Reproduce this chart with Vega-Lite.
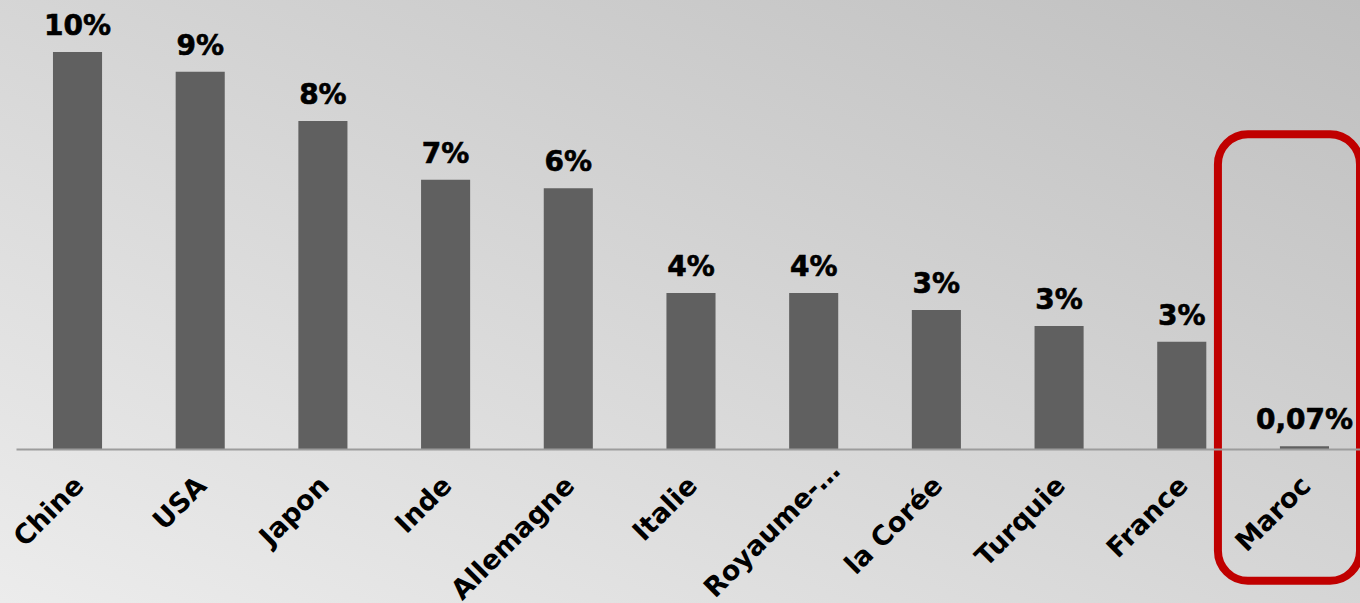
{
  "$schema": "https://vega.github.io/schema/vega-lite/v6.json",
  "width": 1344,
  "height": 449,
  "autosize": {"type": "none"},
  "padding": {"left": 16, "top": 0, "right": 0, "bottom": 154},
  "background": "#d6d6d6",
  "config": {"view": {"stroke": null}, "font": "DejaVu Sans"},
  "data": {
    "values": [
      {"pays": "Chine", "valeur": 10.0, "label": "10%"},
      {"pays": "USA", "valeur": 9.5, "label": "9%"},
      {"pays": "Japon", "valeur": 8.26, "label": "8%"},
      {"pays": "Inde", "valeur": 6.78, "label": "7%"},
      {"pays": "Allemagne", "valeur": 6.57, "label": "6%"},
      {"pays": "Italie", "valeur": 3.93, "label": "4%"},
      {"pays": "Royaume-Uni", "valeur": 3.93, "label": "4%"},
      {"pays": "la Corée", "valeur": 3.5, "label": "3%"},
      {"pays": "Turquie", "valeur": 3.1, "label": "3%"},
      {"pays": "France", "valeur": 2.7, "label": "3%"},
      {"pays": "Maroc", "valeur": 0.07, "label": "0,07%"}
    ]
  },
  "encoding": {
    "x": {
      "field": "pays",
      "type": "nominal",
      "sort": null,
      "scale": {"paddingInner": 0.6, "paddingOuter": 0.277, "align": 0.544},
      "axis": {
        "title": null,
        "zindex": 1,
        "labelAngle": -45,
        "labelFontSize": 27,
        "labelFontWeight": "bold",
        "labelColor": "#000000",
        "labelLimit": 500,
        "labelOverlap": false,
        "labelPadding": {"condition": {"test": "datum.value == 'Royaume-Uni'", "value": 8}, "value": 23},
        "labelOffset": {"condition": {"test": "datum.value == 'Royaume-Uni'", "value": 13}, "value": -7},
        "ticks": false,
        "domainColor": "#9c9c9c",
        "domainWidth": 2,
        "labelExpr": "datum.label == 'Royaume-Uni' ? 'Royaume-…' : datum.label"
      }
    }
  },
  "layer": [
    {
      "data": {"values": [{"bg": 1}]},
      "mark": {
        "type": "rect",
        "fill": {
          "gradient": "linear",
          "x1": 0, "y1": 1, "x2": 1, "y2": 0,
          "stops": [
            {"offset": 0, "color": "#ececec"},
            {"offset": 1, "color": "#bfbfbf"}
          ]
        }
      },
      "encoding": {
        "x": {"value": -16},
        "x2": {"value": 1344},
        "y": {"value": 0},
        "y2": {"value": 603}
      }
    },
    {
      "mark": {"type": "bar", "color": "#606060"},
      "encoding": {
        "y": {"field": "valeur", "type": "quantitative", "scale": {"domain": [0, 11.31], "nice": false, "zero": true}, "axis": null}
      }
    },
    {
      "mark": {"type": "text", "dy": -17, "baseline": "alphabetic", "fontSize": 28, "fontWeight": "bold", "color": "#000000", "stroke": "#000000", "strokeWidth": 0.6},
      "encoding": {
        "y": {"field": "valeur", "type": "quantitative"},
        "text": {"field": "label"}
      }
    },
    {
      "transform": [{"filter": "datum.pays == 'Maroc'"}],
      "mark": {"type": "rect", "fill": null, "stroke": "#c00000", "strokeWidth": 8, "cornerRadius": 30, "xOffset": -62, "x2Offset": 31},
      "encoding": {
        "x": {"field": "pays", "type": "nominal", "sort": null, "bandPosition": 0},
        "x2": {"field": "pays", "bandPosition": 1},
        "y": {"datum": 7.93},
        "y2": {"datum": -3.32}
      }
    }
  ]
}
